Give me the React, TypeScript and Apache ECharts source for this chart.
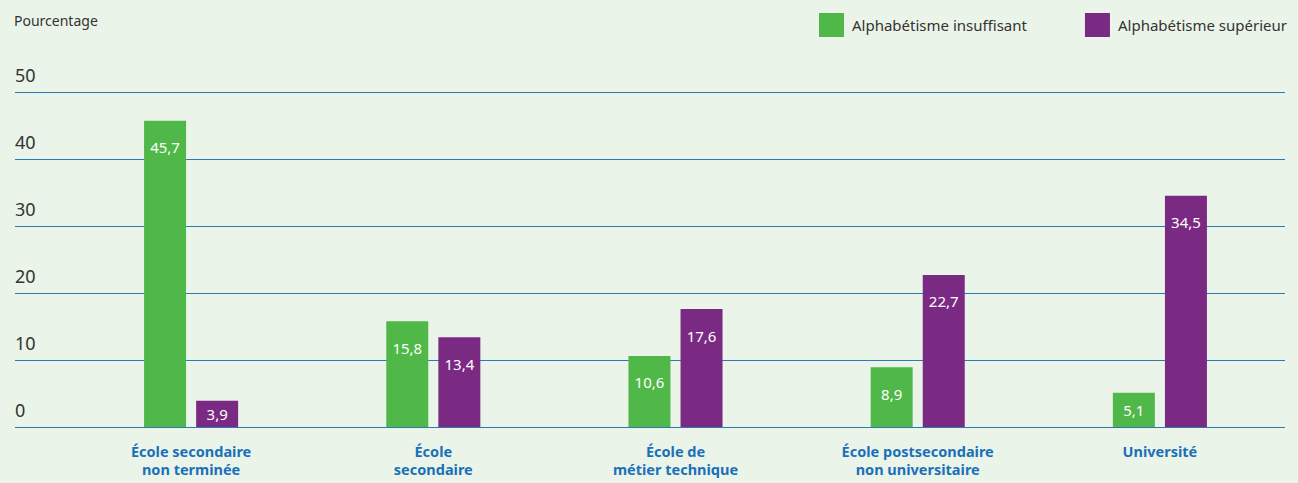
import React, { useEffect, useRef } from "react";
import * as echarts from "echarts";

const categories = [
  "École secondaire\nnon terminée",
  "École\nsecondaire",
  "École de\nmétier technique",
  "École postsecondaire\nnon universitaire",
  "Université",
];
const insuffisant = [45.7, 15.8, 10.6, 8.9, 5.1];
const superieur = [3.9, 13.4, 17.6, 22.7, 34.5];
const seriesNames = ["Alphabétisme insuffisant", "Alphabétisme supérieur"];
const yTicks = { min: 0, max: 50, interval: 10 };

const FONT = "'Noto Sans', sans-serif";
const GREEN = "#50b848";
const PURPLE = "#7b2a83";
const BLUE = "#1a70b8";

const fmt = (v: number) => v.toFixed(1).replace(".", ",");

function makeData(values: number[]) {
  return values.map((v) => ({
    value: v,
    label: v < 7 ? { position: "inside" as const } : { position: "insideTop" as const, distance: 19 },
  }));
}

export default function App() {
  const ref = useRef<HTMLDivElement>(null);
  useEffect(() => {
    if (!ref.current) return;
    const chart = echarts.init(ref.current, null, { renderer: "svg" });
    const barLabel = {
      show: true,
      color: "#ffffff",
      fontFamily: FONT,
      fontSize: 15,
      formatter: (p: any) => fmt(p.value),
    };
    chart.setOption({
      animation: false,
      backgroundColor: "#eaf4e9",
      textStyle: { fontFamily: FONT },
      title: {
        text: "Pourcentage",
        left: 9,
        top: 8,
        textStyle: { fontFamily: FONT, fontSize: 14, fontWeight: "normal", color: "#333333" },
      },
      legend: {
        data: seriesNames,
        right: 6,
        top: 8,
        itemWidth: 25,
        itemHeight: 24,
        itemGap: 58,
        icon: "rect",
        textStyle: { fontFamily: FONT, fontSize: 15, color: "#333333", padding: [0, 0, 0, 3] },
      },
      grid: [
        { left: 15, right: 13, top: 92, bottom: 56 },
        { left: 70, right: 17, top: 92, bottom: 56 },
      ],
      xAxis: [
        { type: "category", gridIndex: 0, data: categories, show: false },
        {
          type: "category",
          gridIndex: 1,
          data: categories,
          axisLine: { show: false },
          axisTick: { show: false },
          axisLabel: {
            color: BLUE,
            fontFamily: FONT,
            fontWeight: "bold",
            fontSize: 14.5,
            lineHeight: 18,
            margin: 15,
            interval: 0,
          },
        },
      ],
      yAxis: [
        {
          type: "value",
          gridIndex: 0,
          min: yTicks.min,
          max: yTicks.max,
          interval: yTicks.interval,
          axisLine: { show: false },
          axisTick: { show: false },
          splitLine: { show: true, lineStyle: { color: "#2a7ab8", width: 1 } },
          axisLabel: {
            inside: true,
            margin: 0,
            align: "left",
            verticalAlign: "bottom",
            padding: [0, 0, 8, 0],
            color: "#333333",
            fontFamily: FONT,
            fontSize: 18,
          },
        },
        {
          type: "value",
          gridIndex: 1,
          min: yTicks.min,
          max: yTicks.max,
          interval: yTicks.interval,
          show: false,
          splitLine: { show: false },
        },
      ],
      series: [
        {
          name: seriesNames[0],
          type: "bar",
          xAxisIndex: 1,
          yAxisIndex: 1,
          data: makeData(insuffisant),
          barWidth: 42,
          barGap: "24%",
          itemStyle: { color: GREEN },
          label: barLabel,
        },
        {
          name: seriesNames[1],
          type: "bar",
          xAxisIndex: 1,
          yAxisIndex: 1,
          data: makeData(superieur),
          barWidth: 42,
          barGap: "24%",
          itemStyle: { color: PURPLE },
          label: barLabel,
        },
      ],
    });
    return () => chart.dispose();
  }, []);
  return <div ref={ref} style={{ width: 1298, height: 483, position: "fixed", left: 0, top: 0 }} />;
}
